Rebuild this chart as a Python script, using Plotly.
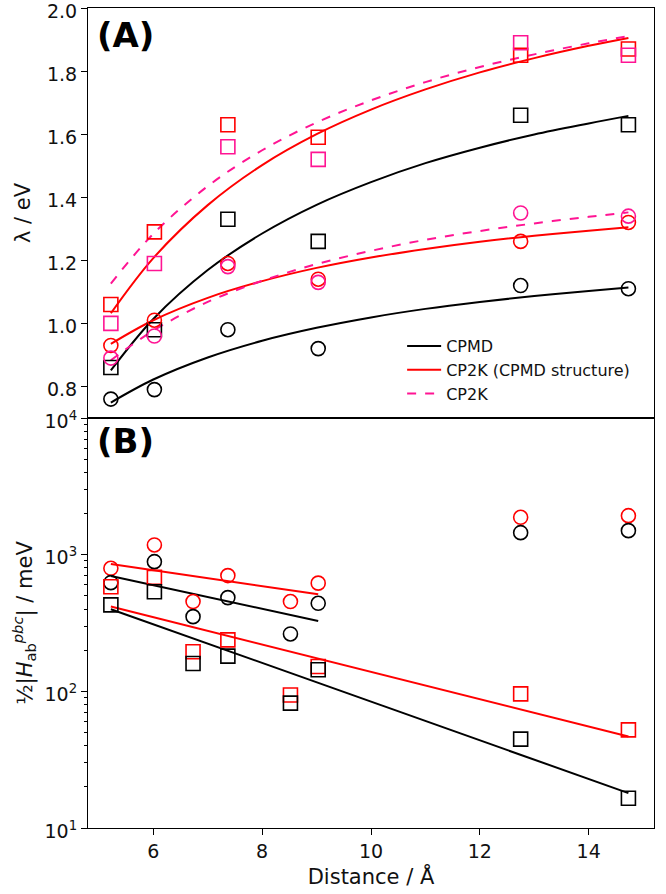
import plotly.graph_objects as go
from plotly.subplots import make_subplots

# ---- data ----
dist_a = [5.22, 6.02, 7.37, 9.03, 12.75, 14.73]
lam_cpmd_sq = [0.86, 0.98, 1.33, 1.26, 1.66, 1.63]
lam_cpmd_ci = [0.76, 0.79, 0.98, 0.92, 1.12, 1.11]
lam_cp2kc_sq = [1.06, 1.29, 1.63, 1.59, 1.85, 1.87]
lam_cp2kc_ci = [0.93, 1.01, 1.19, 1.14, 1.26, 1.32]
lam_cp2k_sq = [1.00, 1.19, 1.56, 1.52, 1.89, 1.85]
lam_cp2k_ci = [0.89, 0.96, 1.18, 1.13, 1.35, 1.34]

fit_x = [5.22, 6, 7, 8, 9, 10, 11, 12, 13, 14, 14.73]
fit_cpmd_sq = [0.851, 1.014, 1.169, 1.285, 1.376, 1.448, 1.508, 1.557, 1.599, 1.634, 1.658]
fit_cpmd_ci = [0.749, 0.822, 0.892, 0.945, 0.986, 1.019, 1.046, 1.068, 1.087, 1.103, 1.114]
fit_cp2kc_sq = [1.032, 1.207, 1.375, 1.502, 1.600, 1.678, 1.742, 1.796, 1.841, 1.880, 1.905]
fit_cp2kc_ci = [0.935, 1.010, 1.081, 1.134, 1.176, 1.209, 1.236, 1.259, 1.278, 1.294, 1.305]
fit_cp2k_sq = [1.126, 1.284, 1.435, 1.549, 1.637, 1.707, 1.765, 1.813, 1.853, 1.888, 1.911]
fit_cp2k_ci = [0.883, 0.977, 1.068, 1.135, 1.188, 1.230, 1.265, 1.293, 1.317, 1.338, 1.352]

dist_b = [5.22, 6.02, 6.73, 7.37, 8.52, 9.03, 12.75, 14.73]
h_cpmd_ci = [624, 889, 352, 485, 263, 441, 1449, 1499]
h_cp2kc_ci = [795, 1178, 454, 703, 454, 619, 1876, 1929]
h_cpmd_sq = [429, 536, 160, 181, 82, 144, 44.7, 16.5]
h_cp2kc_sq = [583, 682, 195, 238, 94, 152, 95.8, 52.2]

fitb_x_short = [5.22, 9.03]
fitb_cp2kc_ci = [855, 513]
fitb_cpmd_ci = [698, 327]
fitb_x_long = [5.22, 14.73]
fitb_cp2kc_sq = [417, 46.7]
fitb_cpmd_sq = [399, 18.0]

lam_ticks = [0.8, 1.0, 1.2, 1.4, 1.6, 1.8, 2.0]
h_ticks = [10, 100, 1000, 10000]
h_ticktext = ["10<sup>1</sup>", "10<sup>2</sup>", "10<sup>3</sup>", "10<sup>4</sup>"]
h_minor = [m * 10 ** e for e in (1, 2, 3) for m in range(2, 10)]
x_ticks = [6, 8, 10, 12, 14]

BLACK = "#000000"
RED = "#ff0000"
PINK = "#ff1493"
FONT = "DejaVu Sans"

fig = make_subplots(rows=2, cols=1, shared_xaxes=True, vertical_spacing=0)

def markers(x, y, color, symbol, row):
    fig.add_trace(go.Scatter(
        x=x, y=y, mode="markers", showlegend=False,
        marker=dict(symbol=symbol, size=14, color=color,
                    line=dict(color=color, width=1.6))), row=row, col=1)

def line(x, y, color, dash, row, name=None, shape="spline"):
    fig.add_trace(go.Scatter(
        x=x, y=y, mode="lines", name=name, showlegend=name is not None,
        line=dict(color=color, width=2, dash=dash, shape=shape)), row=row, col=1)

# Panel A
line(fit_x, fit_cpmd_sq, BLACK, "solid", 1, "CPMD")
line(fit_x, fit_cp2kc_sq, RED, "solid", 1, "CP2K (CPMD structure)")
line(fit_x, fit_cp2k_sq, PINK, "dash", 1, "CP2K")
line(fit_x, fit_cpmd_ci, BLACK, "solid", 1)
line(fit_x, fit_cp2kc_ci, RED, "solid", 1)
line(fit_x, fit_cp2k_ci, PINK, "dash", 1)
markers(dist_a, lam_cpmd_sq, BLACK, "square-open", 1)
markers(dist_a, lam_cpmd_ci, BLACK, "circle-open", 1)
markers(dist_a, lam_cp2kc_sq, RED, "square-open", 1)
markers(dist_a, lam_cp2kc_ci, RED, "circle-open", 1)
markers(dist_a, lam_cp2k_sq, PINK, "square-open", 1)
markers(dist_a, lam_cp2k_ci, PINK, "circle-open", 1)

# Panel B
line(fitb_x_short, fitb_cp2kc_ci, RED, "solid", 2, shape="linear")
line(fitb_x_short, fitb_cpmd_ci, BLACK, "solid", 2, shape="linear")
line(fitb_x_long, fitb_cp2kc_sq, RED, "solid", 2, shape="linear")
line(fitb_x_long, fitb_cpmd_sq, BLACK, "solid", 2, shape="linear")
markers(dist_b, h_cp2kc_ci, RED, "circle-open", 2)
markers(dist_b, h_cpmd_ci, BLACK, "circle-open", 2)
markers(dist_b, h_cp2kc_sq, RED, "square-open", 2)
markers(dist_b, h_cpmd_sq, BLACK, "square-open", 2)

axis_common = dict(showline=True, linecolor="black", linewidth=1.2, mirror=True,
                   showgrid=False, zeroline=False, ticks="outside", ticklen=6,
                   tickwidth=1.2, tickcolor="black", automargin=False,
                   ticklabeloverflow="allow",
                   tickfont=dict(family=FONT, size=19, color="#111"))
title_font = dict(family=FONT, size=21, color="#111")

fig.update_xaxes(**axis_common, range=[4.8, 15.2])
fig.update_xaxes(showticklabels=False, ticks="", row=1, col=1)
fig.update_xaxes(tickvals=x_ticks, row=2, col=1,
                 title=dict(text="Distance / Å", font=title_font, standoff=8))

fig.update_yaxes(**axis_common, ticklabelshift=3)
fig.update_yaxes(range=[0.7, 2.0], tickvals=lam_ticks,
                 tickformat=".1f", row=1, col=1,
                 title=dict(text="λ / eV", font=title_font, standoff=10))
fig.update_yaxes(type="log", range=[1, 4], tickvals=h_ticks, ticktext=h_ticktext,
                 minor=dict(ticks="outside", ticklen=3, tickcolor="black",
                            tickvals=h_minor, showgrid=False),
                 row=2, col=1,
                 title=dict(text="½|<i>H</i><sub>ab</sub><sup><i>pbc</i></sup>| / meV",
                            font=title_font, standoff=6))

fig.add_annotation(text="<b>(A)</b>", xref="paper", yref="paper", x=0.012, y=0.994,
                   xanchor="left", yanchor="top", showarrow=False,
                   font=dict(family=FONT, size=34, color="black"))
fig.add_annotation(text="<b>(B)</b>", xref="paper", yref="paper", x=0.012, y=0.499,
                   xanchor="left", yanchor="top", showarrow=False,
                   font=dict(family=FONT, size=34, color="black"))

fig.update_layout(
    width=666, height=894,
    margin=dict(l=88, r=12, t=8, b=66, autoexpand=False),
    plot_bgcolor="white", paper_bgcolor="white",
    font=dict(family=FONT, color="#111"),
    legend=dict(x=0.555, y=0.6085, xanchor="left", yanchor="top",
                bgcolor="rgba(0,0,0,0)", font=dict(family=FONT, size=16, color="#111"),
                itemwidth=34),
)

fig.write_html("out.html", config={"displayModeBar": False},
               post_script="document.body.style.margin='0px';document.body.style.overflow='hidden';")
